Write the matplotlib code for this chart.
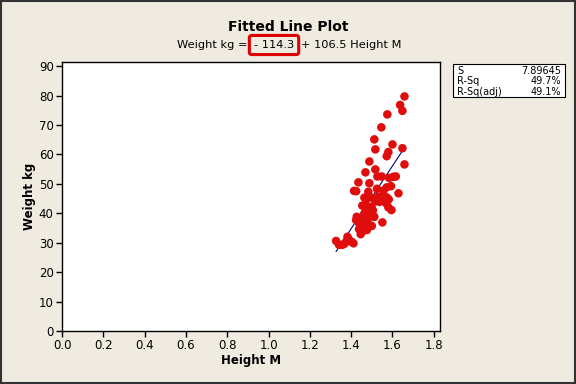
import numpy as np
import matplotlib
matplotlib.use("Agg")
import matplotlib.pyplot as plt
from matplotlib.patches import Rectangle

# data (Height M, Weight kg)
height = [1.658, 1.637, 1.648, 1.575, 1.546, 1.512, 1.600, 1.517, 1.648, 1.580,
          1.572, 1.488, 1.658, 1.469, 1.517, 1.527, 1.548, 1.584, 1.604, 1.616,
          1.435, 1.488, 1.593, 1.414, 1.424, 1.483, 1.525, 1.556, 1.629, 1.464,
          1.476, 1.495, 1.529, 1.540, 1.551, 1.572, 1.582, 1.454, 1.471, 1.488,
          1.498, 1.537, 1.569, 1.580, 1.595, 1.464, 1.483, 1.493, 1.509, 1.427,
          1.424, 1.437, 1.446, 1.459, 1.476, 1.449, 1.464, 1.480, 1.500, 1.512,
          1.551, 1.438, 1.446, 1.459, 1.476, 1.482, 1.382, 1.388, 1.375, 1.403,
          1.411, 1.327, 1.341, 1.357, 1.367, 1.572, 1.517, 1.505]
weight = [79.7, 76.8, 74.8, 73.6, 69.2, 65.1, 63.4, 61.7, 62.1, 60.8,
          59.4, 57.6, 56.6, 53.9, 54.9, 52.5, 52.5, 52.0, 52.4, 52.5,
          50.5, 50.2, 49.2, 47.6, 47.5, 47.3, 48.3, 47.7, 46.8, 45.3,
          45.1, 45.4, 45.6, 45.4, 44.5, 45.4, 44.7, 42.6, 42.9, 41.7,
          42.2, 43.9, 43.4, 42.0, 41.1, 40.0, 40.5, 39.4, 38.8, 38.8,
          37.7, 36.8, 37.1, 37.9, 37.9, 35.8, 35.2, 36.8, 35.7, 38.8,
          36.9, 34.6, 32.9, 34.1, 34.3, 36.1, 32.0, 31.1, 30.3, 30.3,
          29.8, 30.6, 29.3, 29.3, 29.6, 48.8, 44.0, 41.0]

intercept = -114.3
slope = 106.5
stat_names = ["S", "R-Sq", "R-Sq(adj)"]
stat_values = ["7.89645", "49.7%", "49.1%"]

bg = "#efebe1"
fig = plt.figure(figsize=(5.76, 3.84), dpi=100, facecolor=bg)
ax = fig.add_axes([62 / 576, 1 - 331 / 384, 378 / 576, 269 / 384])
ax.set_facecolor("white")

h = np.array(height)
ax.scatter(h, weight, s=38, color="#e00d0d", edgecolors="none", zorder=3)
xs = np.array([h.min(), h.max()])
ax.plot(xs, intercept + slope * xs, color="#000080", lw=0.8, zorder=2)

ax.set_xlim(0, 1.83)
ax.set_ylim(0, 91.4)
ax.set_xticks(np.arange(0, 1.81, 0.2))
ax.set_xticklabels([f"{v:.1f}" for v in np.arange(0, 1.81, 0.2)])
ax.set_yticks(range(0, 91, 10))
ax.tick_params(direction="out", length=4, width=1, labelsize=8.5, pad=2)
for sp in ax.spines.values():
    sp.set_linewidth(1)

ax.set_xlabel("Height M", fontsize=8.5, fontweight="bold", labelpad=1)
ax.set_ylabel("Weight kg", fontsize=8.5, fontweight="bold", labelpad=2)

fig.text(0.5, 1 - 27 / 384, "Fitted Line Plot", ha="center", va="center",
         fontsize=10, fontweight="bold")

# subtitle with the intercept boxed in red
t1 = fig.text(177 / 576, 1 - 45 / 384, "Weight kg = ", ha="left", va="center", fontsize=8.2)
t2 = ax.annotate("- 114.3", xy=(1, 0), xycoords=t1, xytext=(2, 0), textcoords="offset points",
                 ha="left", va="bottom", fontsize=8.2, annotation_clip=False,
                 bbox=dict(boxstyle="round,pad=0.4,rounding_size=0.2",
                           fc="none", ec="#e00000", lw=2.2))
t3 = ax.annotate("+ 106.5 Height M", xy=(1, 0), xycoords=t2, xytext=(5, 0),
                 textcoords="offset points", ha="left", va="bottom",
                 fontsize=8.2, annotation_clip=False)

# stats box
fig.patches.append(Rectangle((453 / 576, 1 - 97 / 384), 112 / 576, 33 / 384,
                             transform=fig.transFigure, fc="white", ec="black", lw=0.8))
for i, (n, v) in enumerate(zip(stat_names, stat_values)):
    y = 1 - (71 + i * 10.5) / 384
    fig.text(457 / 576, y, n, ha="left", va="center", fontsize=7)
    fig.text(561 / 576, y, v, ha="right", va="center", fontsize=7)

# outer frame
fig.patches.append(Rectangle((0.002, 0.003), 0.996, 0.994, transform=fig.transFigure,
                             fc="none", ec="#333333", lw=1.5))

fig.savefig("out.png", dpi=100, facecolor=bg)
